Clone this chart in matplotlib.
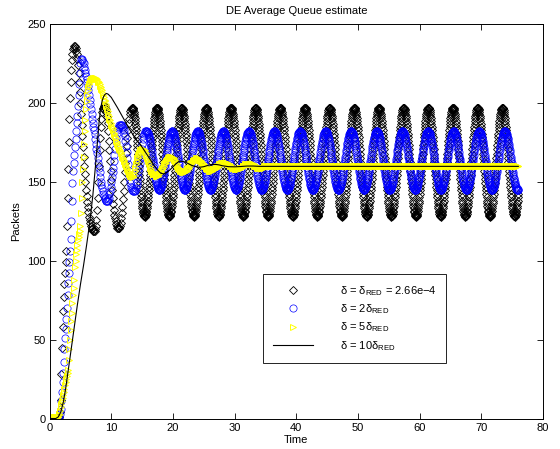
import numpy as np
import matplotlib
matplotlib.use('Agg')
import matplotlib.pyplot as plt

plt.rcParams['font.family'] = ['Liberation Sans', 'DejaVu Sans']
plt.rcParams['mathtext.fontset'] = 'custom'
plt.rcParams['mathtext.rm'] = 'Liberation Sans'
plt.rcParams['mathtext.it'] = 'Liberation Sans:italic'

DT_START = 0.1   # sample spacing of the start-up part (s)
DT_CYCLE = 0.05  # sample spacing once the queue oscillates steadily (s)

# delta = delta_RED : start-up 0.0 .. 13.3 s, then a steady 4.0 s cycle from 13.4 s
red_start = [
    0, 0, 0, 0, 0, 0, 0, 0, 0, 0,
    0, 0, 0, 0, 0, 0, 1, 4, 12, 28,
    45, 58, 68, 77, 85, 92, 99, 106, 122, 140,
    158, 175, 190, 203, 213, 221, 227, 231, 234, 235,
    236, 236, 235, 233, 231, 228, 224, 219, 213, 207,
    200, 193, 186, 179, 172, 166, 160, 155, 150, 145,
    141, 137, 134, 131, 128, 126, 124, 122, 121, 120,
    119, 119, 119, 119, 120, 122, 126, 132, 140, 150,
    160, 170, 178, 185, 190, 194, 196, 197, 198, 198,
    197, 196, 194, 191, 187, 182, 176, 170, 163, 157,
    151, 145, 140, 136, 132, 129, 127, 125, 123, 122,
    121, 121, 121, 121, 122, 124, 127, 130, 134, 139,
    144, 150, 156, 162, 168, 173, 178, 183, 187, 190,
    193, 195, 196, 197,
]
red_cycle = [
    197.0, 196.9, 196.6, 196.0, 195.3, 194.4, 193.2, 191.9, 190.4, 188.7,
    186.9, 184.9, 182.8, 180.5, 178.2, 175.7, 173.2, 170.6, 167.9, 165.2,
    162.5, 159.8, 157.1, 154.5, 151.8, 149.3, 146.8, 144.5, 142.2, 140.1,
    138.1, 136.3, 134.6, 133.1, 131.8, 130.6, 129.7, 129.0, 128.4, 128.1,
    128.0, 128.1, 128.4, 129.0, 129.7, 130.6, 131.8, 133.1, 134.6, 136.3,
    138.1, 140.1, 142.2, 144.5, 146.8, 149.3, 151.8, 154.5, 157.1, 159.8,
    162.5, 165.2, 167.9, 170.6, 173.2, 175.7, 178.2, 180.5, 182.8, 184.9,
    186.9, 188.7, 190.4, 191.9, 193.2, 194.4, 195.3, 196.0, 196.6, 196.9,
]
red_steady = red_cycle * 15 + red_cycle[:53]

# delta = 2 delta_RED : start-up 0.0 .. 15.6 s, then a steady 4.15 s cycle from 15.7 s
x2_start = [
    0, 0, 0, 0, 0, 0, 0, 0, 0, 0,
    0, 0, 0, 0, 0, 0, 1, 3, 6, 11,
    17, 23, 29, 36, 44, 51, 57, 63, 70, 78,
    86, 92, 99, 106, 114, 125, 138, 149, 157, 162,
    167, 172, 177, 182, 187, 192, 198, 205, 212, 219,
    225, 228, 228, 227, 226, 225, 223, 221, 219, 217,
    215, 213, 211, 208, 205, 202, 199, 196, 193, 190,
    187, 185, 183, 180, 177, 174, 171, 168, 165, 162,
    159, 156, 153, 150, 148, 146, 144, 142, 141, 140,
    139, 138, 138, 138, 138, 139, 140, 142, 144, 147,
    150, 153, 156, 159, 163, 167, 171, 175, 178, 181,
    183, 184, 185, 186, 186, 186, 186, 186, 185, 184,
    183, 181, 179, 176, 173, 169, 165, 161, 157, 154,
    151, 149, 147, 146, 145, 144, 144, 144, 144, 145,
    146, 148, 150, 153, 156, 159, 162, 165, 168, 171,
    174, 177, 179, 180, 181, 182, 182,
]
x2_cycle = [
    182.0, 182.0, 181.8, 181.5, 181.2, 180.7, 180.1, 179.5, 178.7, 177.9,
    177.0, 176.0, 174.9, 173.7, 172.5, 171.3, 170.0, 168.7, 167.3, 165.9,
    164.5, 163.2, 161.8, 160.4, 159.0, 157.6, 156.3, 155.1, 153.8, 152.7,
    151.6, 150.5, 149.6, 148.7, 147.9, 147.2, 146.6, 146.1, 145.6, 145.3,
    145.1, 145.0, 145.0, 145.1, 145.3, 145.6, 146.1, 146.6, 147.2, 147.9,
    148.7, 149.6, 150.5, 151.6, 152.7, 153.8, 155.1, 156.3, 157.6, 159.0,
    160.4, 161.8, 163.2, 164.5, 165.9, 167.3, 168.7, 170.0, 171.3, 172.5,
    173.7, 174.9, 176.0, 177.0, 177.9, 178.7, 179.5, 180.1, 180.7, 181.2,
    181.5, 181.8, 182.0,
]
x2_steady = x2_cycle * 14 + x2_cycle[:45]

# delta = 5 delta_RED : damped, settles on ~160 after 36 s
x5_start = [
    1, 1, 1, 1, 1, 1, 1, 1, 1, 1,
    1, 1, 1, 1, 1, 2, 3, 5, 7, 9,
    11, 13, 15, 17, 19, 21, 23, 25, 27, 29,
    31, 37, 44, 50, 56, 62, 67, 73, 78, 83,
    88, 96, 100, 104, 107, 110, 113, 115, 117, 119,
    122, 130, 140, 150, 158, 166, 174, 182, 189, 196,
    201, 205, 208, 210, 212, 213, 214, 215, 215, 215,
    215, 216, 216, 216, 216, 216, 215, 215, 214, 213,
    213, 212, 211, 210, 209, 208, 206, 205, 204, 202,
    201, 199, 198, 196, 195, 193, 192, 190, 189, 187,
    186, 185, 184, 183, 181, 180, 179, 178, 176, 175,
    174, 173, 172, 171, 170, 169, 168, 167, 166, 165,
    164, 163, 162, 161, 160, 159, 158, 157, 156, 155,
    155, 154, 154, 153, 153, 153, 154, 155, 157, 159,
    161, 163, 165, 166, 167, 168, 169, 170, 170, 171,
    171, 171, 171, 170, 170, 169, 168, 167, 165, 164,
    163, 162, 160, 159, 158, 157, 156, 156, 155, 155,
    155, 155, 154, 154, 154, 154, 154, 155, 155, 156,
    156, 157, 158, 158, 159, 160, 161, 162, 162, 163,
    164, 164, 165, 165, 166, 166, 166, 166, 166, 166,
    165, 165, 164, 164, 163, 162, 161, 160, 159, 159,
    158, 158, 157, 157, 157, 156, 156, 156, 156, 156,
    157, 157, 157, 158, 158, 159, 159, 160, 161, 161,
    162, 162, 163, 163, 164, 164, 164, 164, 165, 165,
    165, 165, 164, 164, 164, 163, 163, 162, 162, 161,
    161, 160, 160, 159, 159, 158, 158, 158, 158, 157,
    157, 157, 157, 157, 158, 158, 158, 158, 158, 159,
    159, 159, 160, 160, 160, 161, 161, 161, 162, 162,
    162, 162, 162, 162, 162, 162, 162, 162, 162, 161,
    161, 161, 161, 160, 160, 160, 159, 159, 159, 159,
    158, 158, 158, 158, 158, 158, 158, 158, 159, 159,
    159, 159, 159, 160, 160, 160, 160, 161, 161, 161,
    161, 161, 161, 161, 161, 161, 161, 161, 161, 161,
    161, 161, 160, 160, 160, 160, 160, 159, 159, 159,
    159, 159, 159, 159, 159, 159, 159, 159, 160, 160,
    160, 160, 160, 160, 160, 160, 160, 160, 160, 160,
]
x5_queue = x5_start + [160] * 401

# delta = 10 delta_RED (solid line)
x10_time = [0, 1.0, 1.4, 1.8, 2.2, 2.6, 3.0, 3.5, 4.0, 4.5,
            5.0, 5.5, 6.0, 6.5, 7.0, 7.5, 8.0, 8.25, 8.5, 8.75,
            9.0, 9.25, 9.5, 9.75, 10, 11, 12, 13, 14, 15,
            16, 17, 17.5, 18, 18.5, 19, 19.5, 20, 20.5, 21,
            21.5, 22, 22.5, 23, 23.5, 24, 24.5, 25, 25.5, 26,
            26.5, 27, 27.5, 28, 29, 30, 31, 32, 33, 34, 36, 76]
x10_queue = [0, 0, 1, 4, 10, 19, 30, 44, 58, 72,
             85, 97, 110, 124, 141, 163, 187, 196, 201, 204,
             205.5, 206, 205.5, 204.5, 203.5, 197, 190, 183, 177, 172,
             166, 160, 157.5, 155.5, 155, 156, 157.5, 159.5, 161.5, 163,
             163, 162.5, 161.5, 160.5, 159.8, 159.3, 159.3, 159.6, 160.2, 160.8,
             161, 161, 160.7, 160.2, 159.6, 159.5, 159.7, 160, 160, 159.8, 159.8, 159.8]

labels = ['δ = δ$_{\\rm RED}$ = 2.66e−4', 'δ = 2δ$_{\\rm RED}$',
          'δ = 5δ$_{\\rm RED}$', 'δ = 10δ$_{\\rm RED}$']


def sample_times(n_start, n_steady):
    t0 = np.arange(n_start) * DT_START
    return np.concatenate([t0, n_start * DT_START + np.arange(n_steady) * DT_CYCLE])


t1 = sample_times(len(red_start), len(red_steady))
q1 = red_start + red_steady
t2 = sample_times(len(x2_start), len(x2_steady))
q2 = x2_start + x2_steady
t5 = np.arange(len(x5_queue)) * DT_START

fig = plt.figure(figsize=(5.6, 4.49), dpi=100)
ax = fig.add_axes([0.0886, 0.0679, 0.881, 0.8786])

ax.plot(t1, q1, 'D', ls='none', mfc='none', mec='k', ms=3.8, mew=0.6, label=labels[0])
ax.plot(t2, q2, 'o', ls='none', mfc='none', mec=(0, 0, 1), ms=5.2, mew=0.5, label=labels[1])
ax.plot(t5, x5_queue, '>', ls='none', mfc='none', mec=(1, 1, 0), ms=5.0, mew=0.7, label=labels[2])
ax.plot(x10_time, x10_queue, '-', color='k', lw=0.8, label=labels[3])

ax.set_xlim(0, 80)
ax.set_ylim(0, 250)
ax.set_xticks(range(0, 81, 10))
ax.set_yticks(range(0, 251, 50))
ax.tick_params(direction='in', top=True, right=True, length=4, width=0.6,
               labelsize=8, pad=3)
for s in ax.spines.values():
    s.set_linewidth(0.7)

ax.set_title('DE Average Queue estimate', fontsize=8, pad=7)
ax.set_xlabel('Time', fontsize=8, labelpad=2)
ax.set_ylabel('Packets', fontsize=8, labelpad=4)

leg = ax.legend(loc='upper left', bbox_to_anchor=(0.4325, 0.3663), borderaxespad=0,
                fontsize=8, fancybox=False, edgecolor='k', framealpha=1,
                handlelength=3.6, handletextpad=2.4, borderpad=0.9, labelspacing=0.4)
leg.get_frame().set_linewidth(0.6)

fig.savefig('out.png', dpi=100)
